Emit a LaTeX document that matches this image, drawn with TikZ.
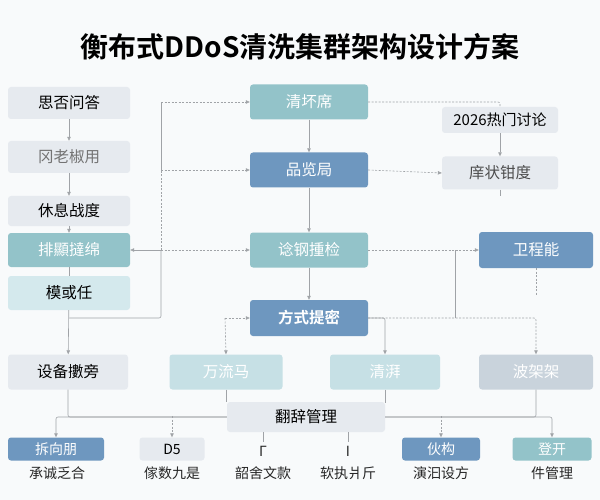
\documentclass[tikz,border=0pt]{standalone}
\usepackage{fontspec}
\setmainfont{Noto Sans CJK SC}[BoldFont={Noto Sans CJK SC Bold}]
\usetikzlibrary{arrows.meta,calc}

\definecolor{bgc}{HTML}{F8FAFB}
\definecolor{grayc}{HTML}{E6EAEF}
\definecolor{tealc}{HTML}{93C3C9}
\definecolor{bluec}{HTML}{6E97BF}
\definecolor{cyanc}{HTML}{D4E9ED}
\definecolor{palec}{HTML}{C6E0E5}
\definecolor{slatec}{HTML}{C9D3DC}
\definecolor{linec}{HTML}{A0A3A7}

\tikzset{
  box/.style={rounded corners=3pt, inner sep=0pt, font=\fontsize{15.5}{17}\selectfont},
  graybox/.style={box, fill=grayc, text=black},
  tealbox/.style={box, fill=tealc, text=white},
  bluebox/.style={box, fill=bluec, text=white},
  smallbox/.style={minimum height=23pt, font=\fontsize{14}{16}\selectfont},
  link/.style={draw=linec, line width=0.6pt, rounded corners=2pt},
  dlink/.style={link, dash pattern=on 2pt off 1.5pt},
  arr/.style={-{Triangle[length=4pt,width=3.5pt]}},
  captext/.style={font=\fontsize{14}{16}\selectfont, text=black!85}
}

\begin{document}
\begin{tikzpicture}[x=1pt,y=-1pt]
  \fill[bgc] (0,0) rectangle (600,500);
  \useasboundingbox (0,0) rectangle (600,500);

  \node[font=\fontsize{28}{32}\selectfont\bfseries] (title) at (300,47) {衡布式DDoS清洗集群架构设计方案};

  % left column
  \node[graybox, minimum width=122pt, minimum height=32pt] (q1) at (69,103) {思否问答};
  \node[graybox, minimum width=122pt, minimum height=32pt, text=black!55] (q2) at (69,157) {冈老椒用};
  \node[graybox, minimum width=122pt, minimum height=30pt] (q3) at (69,211) {休息战度};
  \node[tealbox, minimum width=122pt, minimum height=34pt] (q4) at (69,250) {排顯撻绵};
  \node[box, fill=cyanc, minimum width=122pt, minimum height=34pt] (q5) at (69,293) {模或任};
  \node[graybox, minimum width=120pt, minimum height=35pt] (q6) at (68,372) {设备擻旁};

  % center column
  \node[tealbox, minimum width=118pt, minimum height=35pt] (c1) at (309,102) {清坏席};
  \node[bluebox, minimum width=118pt, minimum height=35pt] (c2) at (309,170) {品览局};
  \node[tealbox, minimum width=118pt, minimum height=35pt] (c3) at (309,250) {谂钢揰检};
  \node[bluebox, minimum width=118pt, minimum height=36pt, font=\fontsize{15.5}{17}\selectfont\bfseries] (c4) at (309,318) {方式提密};

  % right column
  \node[graybox, minimum width=116pt, minimum height=26pt, font=\fontsize{15}{17}\selectfont] (r1) at (500,120) {2026热门讨论};
  \node[graybox, minimum width=116pt, minimum height=33pt, text=black!70] (r2) at (500,173) {庠状钳度};
  \node[bluebox, minimum width=114pt, minimum height=36pt] (r3) at (536,250) {卫程能};

  % middle row
  \node[box, fill=palec, text=white, minimum width=113pt, minimum height=35pt] (m1) at (226,372) {万流马};
  \node[box, fill=palec, text=white, minimum width=110pt, minimum height=35pt] (m2) at (385,372) {清湃};
  \node[box, fill=slatec, text=white, minimum width=114pt, minimum height=35pt] (m3) at (536,372) {波架架};

  \node[graybox, minimum width=158pt, minimum height=30pt] (g) at (306,417) {翻辞管理};

  % bottom row
  \node[bluebox, smallbox, minimum width=96pt] (b1) at (56,449) {拆向朋};
  \node[graybox, smallbox, minimum width=65pt] (b2) at (172,449) {D5};
  \node[captext] (b3) at (263,451) {Γ};
  \node[captext] (b4) at (348,451) {I};
  \node[bluebox, smallbox, minimum width=78pt] (b5) at (441,449) {伙构};
  \node[tealbox, smallbox, minimum width=79pt] (b6) at (552,449) {登开};

  \node[captext] (l1) at (57,473) {承诚乏合};
  \node[captext] (l2) at (172,473) {傢数九是};
  \node[captext] (l3) at (263,473) {韶舍文款};
  \node[captext] (l4) at (348,473) {软执爿斤};
  \node[captext] (l5) at (441,473) {演汩设方};
  \node[captext] (l6) at (552,473) {件管理};

  % junction points
  \coordinate (j1) at (161,102);
  \coordinate (j2) at (161,170);
  \coordinate (j3) at (161,250);
  \coordinate (j4) at (161,318);
  \coordinate (k1) at (69,318);
  \coordinate (k2) at (225,318);
  \coordinate (k5) at (455,250);
  \coordinate (k6) at (455,318);
  \coordinate (h2) at (172,416);
  \coordinate (h3) at (441,416);

  % left chain
  \draw[link, arr] (q1) -- (q2);
  \draw[link, arr] (q2) -- (q3);
  \draw[link, arr] (q3) -- (q4);
  \draw[link] (q4) -- (q5);
  \draw[link, arr] (q5) -- (q6);
  \draw[link] (k1) -- (j4) -- (j3);
  \draw[link, arr] (j3) -- (q4.east);
  \draw[dlink] (j3) -- (j2);
  \draw[link] (j2) -- (j1);
  \draw[dlink, arr] (j1) -- (c1.west);
  \draw[dlink, arr] (j2) -- (c2.west);
  \draw[dlink, arr] (j3) -- (c3.west);

  % center chain
  \draw[link, arr] (c1) -- (c2);
  \draw[link, arr] (c2) -- (c3);
  \draw[link, arr] (c3) -- (c4);

  % right side
  \draw[dlink] (c1.east) -| (r1.north);
  \draw[link, arr] (r1) -- (r2);
  \draw[dlink, arr] (c2.east) -- (r2.west);
  \draw[link] (r2.south) -- ++(0,6);
  \draw[dlink, arr] (c3.east) -- (r3.west);
  \draw[link] (k5) -- (k6);
  \draw[dlink] (r3.south) -- ++(0,28);
  \draw[dlink, arr] (c4.east) -| (m3.north);
  \draw[link, arr] (c4.east) -| (m2.north);
  \draw[dlink, arr] (k2) -- (c4.west);
  \draw[dlink, arr] (k2) -- (m1.north);

  % bottom links
  \draw[link] (m1.south) -- (m1.south |- g.north);
  \draw[link] (m2.south) -- ++(0,13);
  \draw[link] (q6.south) |- (g.west);
  \draw[link, arr] (g.west) -| (b1.north);
  \draw[dlink, arr] (h2) -- (b2.north);
  \draw[link] (m3.south) |- (g.east);
  \draw[dlink, arr] (h3) -- (b5.north);
  \draw[link, arr] (g.east) -| (b6.north);
  \draw[link] (b3.north |- g.south) -- (b3.north);
  \draw[link] (b4.north |- g.south) -- (b4.north);
\end{tikzpicture}
\end{document}
